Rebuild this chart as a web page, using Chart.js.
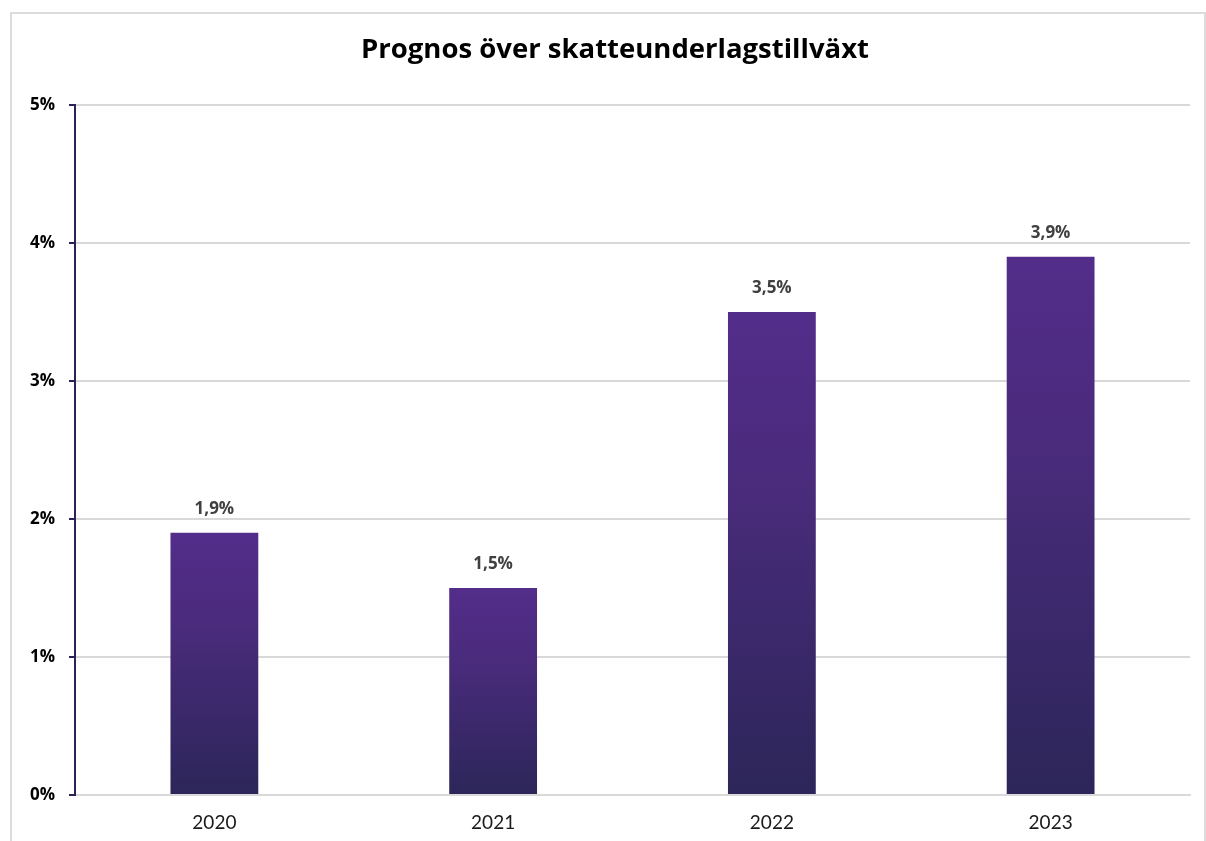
<!DOCTYPE html>
<html lang="sv">
<head>
    <meta charset="UTF-8">
    <title>Prognos över skatteunderlagstillväxt</title>
    <script src="https://cdn.jsdelivr.net/npm/chart.js"></script>
    <style>
        body { margin: 0; background: #fff; }
        .frame { position: absolute; left: 10px; top: 12px; width: 1192px; height: 850px; border: 2px solid #dcdcdc; }
        .wrap { position: absolute; left: 0; top: 0; width: 1206px; height: 841px; }
    </style>
</head>
<body>
    <div class="frame"></div>
    <div class="wrap"><canvas id="chart" width="1206" height="841"></canvas></div>
    <script>
        const title = "Prognos över skatteunderlagstillväxt";
        const years = ["2020", "2021", "2022", "2023"];
        const growth = [1.9, 1.5, 3.5, 3.9];
        const yTicks = [0, 1, 2, 3, 4, 5];

        const FONT = "Lato, 'Open Sans', sans-serif";
        const BOLD_FONT = "'Open Sans', Lato, sans-serif";
        const topColor = "#532d8a";
        const bottomColor = "#2c2659";

        // gradient per bar, from bar top to the baseline
        function barFill(ctx) {
            const chart = ctx.chart;
            if (!chart.chartArea) return topColor;
            const y = chart.scales.y;
            const top = y.getPixelForValue(growth[ctx.dataIndex]);
            const base = y.getPixelForValue(0);
            const g = chart.ctx.createLinearGradient(0, top, 0, base);
            g.addColorStop(0, topColor);
            g.addColorStop(0.35, "#4a2b7c");
            g.addColorStop(1, bottomColor);
            return g;
        }

        // value labels above the bars + the title (centred on the frame, not the canvas)
        const extraText = {
            id: "extraText",
            afterDatasetsDraw(chart) {
                const c = chart.ctx;
                const meta = chart.getDatasetMeta(0);
                c.save();
                c.textAlign = "center";
                c.textBaseline = "middle";
                c.font = "bold 17px " + BOLD_FONT;
                c.fillStyle = "#404040";
                meta.data.forEach((bar, i) => {
                    c.fillText(growth[i].toFixed(1).replace(".", ",") + "%", bar.x, bar.y - 24);
                });
                c.font = "bold 27.5px " + BOLD_FONT;
                c.fillStyle = "#000";
                c.fillText(title, 615, 50);
                c.restore();
            }
        };

        new Chart(document.getElementById("chart"), {
            type: "bar",
            data: {
                labels: years,
                datasets: [{
                    data: growth,
                    backgroundColor: barFill,
                    barPercentage: 0.315,
                    categoryPercentage: 1
                }]
            },
            options: {
                responsive: false,
                animation: false,
                layout: { padding: { left: 0, right: 16, top: 105, bottom: 0 } },
                plugins: {
                    legend: { display: false },
                    tooltip: { enabled: false },
                    title: { display: false }
                },
                scales: {
                    x: {
                        grid: { display: false, drawTicks: false },
                        border: { color: "#d9d9d9", width: 2 },
                        ticks: { color: "#1a1a1a", padding: 16, font: { family: FONT, size: 19 } },
                        afterFit(s) { s.height = 46; }
                    },
                    y: {
                        min: 0,
                        max: 5,
                        afterBuildTicks(s) { s.ticks = yTicks.map(v => ({ value: v })); },
                        grid: { color: "#d9d9d9", lineWidth: 2, tickLength: 6, tickColor: "#2a2357" },
                        border: { color: "#2a2357", width: 2 },
                        ticks: {
                            color: "#000",
                            padding: 14,
                            font: { family: BOLD_FONT, size: 17, weight: "bold" },
                            callback: v => v + "%"
                        },
                        afterFit(s) { s.width = 75; }
                    }
                }
            },
            plugins: [extraText]
        });
    </script>
</body>
</html>
